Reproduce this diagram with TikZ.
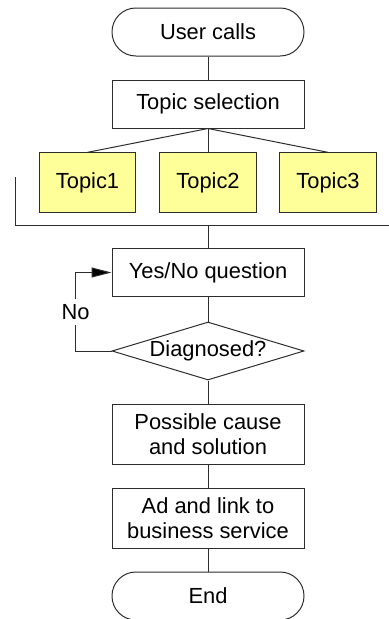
\documentclass[tikz,border=0pt]{standalone}
\usepackage{fontspec}
\setmainfont{Liberation Sans}
\usepackage{tikz}
\usetikzlibrary{shapes.geometric,arrows.meta}
\definecolor{boxline}{RGB}{45,45,45}
\definecolor{topicfill}{RGB}{255,255,153}

\begin{document}
\begin{tikzpicture}[x=0.75pt,y=0.75pt,yscale=-1,xscale=1,
  font=\fontsize{16.4}{19}\selectfont,
  every node/.style={inner sep=0pt},
  stepbox/.style={draw=boxline,line width=0.75pt,rectangle,minimum width=144pt,minimum height=36pt,align=center},
  tallbox/.style={stepbox,minimum height=45pt},
  endbox/.style={stepbox,rounded corners=17.9pt},
  topicbox/.style={draw=boxline,line width=0.75pt,fill=topicfill,minimum width=72.5pt,minimum height=44.5pt},
  askbox/.style={draw=boxline,line width=0.75pt,diamond,aspect=3.3,minimum width=144pt,minimum height=43.5pt},
  link/.style={draw=boxline,line width=0.75pt}]
\useasboundingbox (0,0) rectangle (389,619);

%Shape: Terminal [id:start]
\node[endbox] (start) at (208,32) {User calls};
%Shape: Rectangle [id:sel]
\node[stepbox] (sel) at (208,104) {Topic selection};

%Shape: Rectangle [id:topic1..3]
\node[topicbox] (topic1) at (87.5,182.5) {Topic1};
\node[topicbox] (topic2) at (208,182.5) {Topic2};
\node[topicbox] (topic3) at (328,182.5) {Topic3};

%Shape: Rectangle [id:qst]
\node[stepbox] (qst) at (208,272.5) {Yes/No question};
%Shape: Diamond [id:diag]
\node[askbox] (diag) at (208,351) {Diagnosed?};
%Shape: Rectangle [id:cause]
\node[tallbox] (cause) at (208,434) {Possible cause\\and solution};
%Shape: Rectangle [id:adlink]
\node[tallbox] (adlink) at (208,518.5) {Ad and link to\\business service};
%Shape: Terminal [id:finish]
\node[endbox] (finish) at (208,596) {End};

\coordinate (brk) at (208,225);

%Straight Lines
\draw[link] (start) -- (sel);
\draw[link] (sel.south) -- (topic1.north);
\draw[link] (sel.south) -- (topic2.north);
\draw[link] (sel.south) -- (topic3.north);
%Bracket
\draw[link] (15,177) |- (389,225);
\draw[link] (brk) -- (qst);
\draw[link] (qst) -- (diag);
\draw[link] (diag) -- (cause);
\draw[link] (cause) -- (adlink);
\draw[link] (adlink) -- (finish);

%Loop back
\draw[link,-{Triangle[length=15pt,width=7.5pt,fill=black]}] (diag.west) -- ++(-36,0)
  -- node[fill=white,inner ysep=4pt] (no) {No} ++(0,-78.5) -- (qst.west);

\end{tikzpicture}
\end{document}
